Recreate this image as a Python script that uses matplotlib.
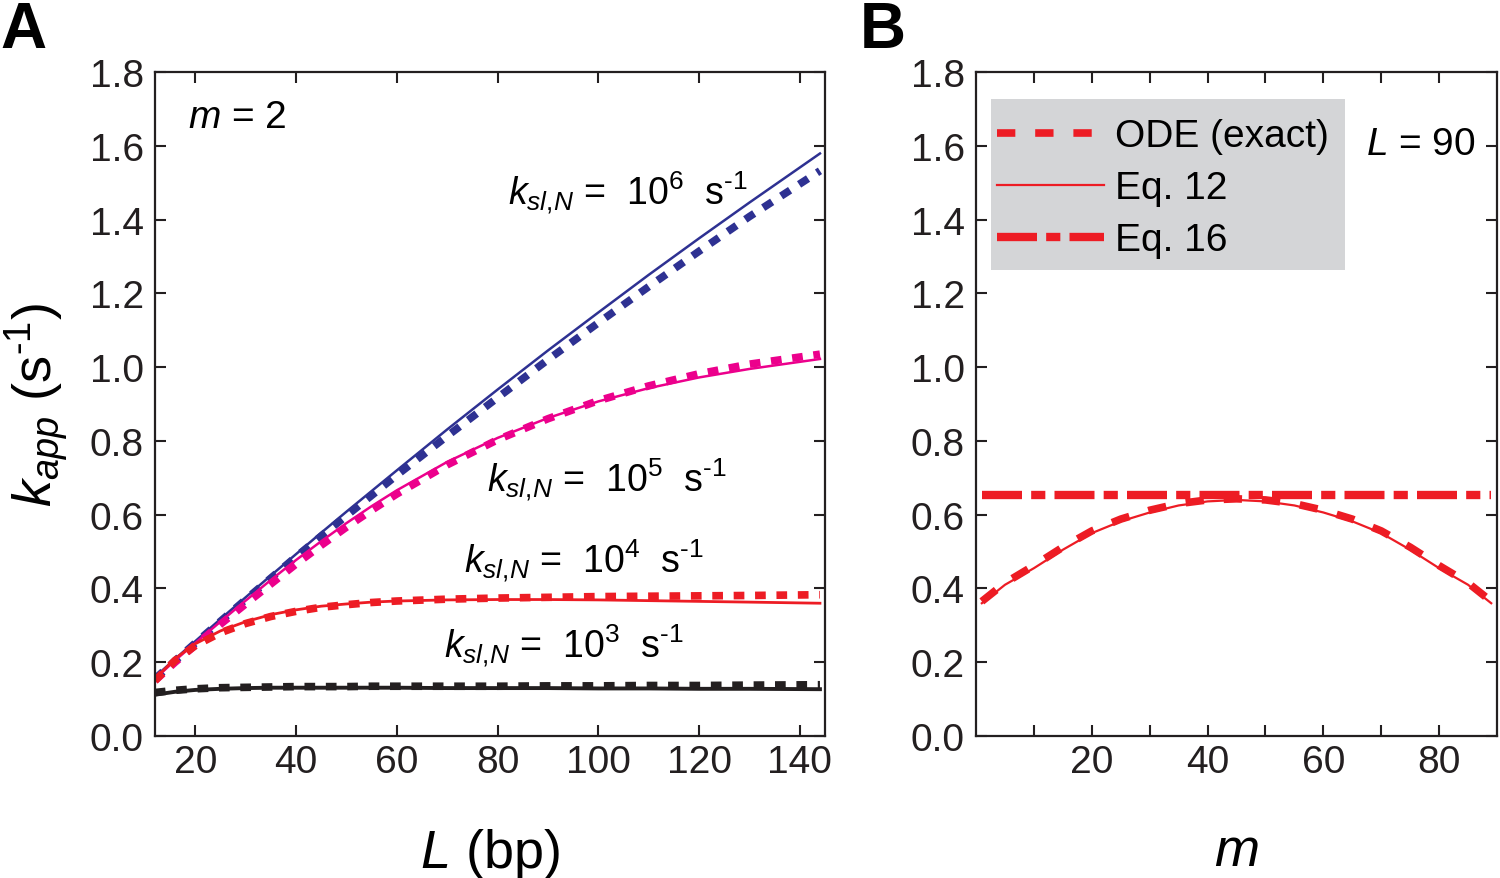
import matplotlib
matplotlib.use("Agg")
import matplotlib.pyplot as plt
from matplotlib.patches import Rectangle
from matplotlib.ticker import FormatStrFormatter, FixedLocator

plt.rcParams['font.family'] = ['Liberation Sans', 'DejaVu Sans']
plt.rcParams['mathtext.fontset'] = 'custom'
plt.rcParams['mathtext.rm'] = 'Liberation Sans'
plt.rcParams['mathtext.it'] = 'Liberation Sans:italic'
plt.rcParams['mathtext.bf'] = 'Liberation Sans:bold'

# ---- data, panel A (k_app vs L, m = 2)
L = [12, 16, 20, 25, 30, 35, 40, 45, 50, 55, 60, 70, 80, 90, 100, 110, 120, 130, 144]
k6_eq = [0.16, 0.209, 0.257, 0.317, 0.376, 0.435, 0.493, 0.551, 0.608, 0.664, 0.720,
         0.831, 0.939, 1.045, 1.148, 1.250, 1.349, 1.446, 1.579]
k6_ode = [0.155, 0.204, 0.252, 0.311, 0.370, 0.428, 0.486, 0.542, 0.597, 0.652, 0.707,
          0.813, 0.917, 1.020, 1.120, 1.218, 1.314, 1.408, 1.532]
k5_eq = [0.155, 0.205, 0.252, 0.310, 0.367, 0.423, 0.477, 0.528, 0.577, 0.623, 0.666,
         0.743, 0.808, 0.862, 0.907, 0.943, 0.972, 0.995, 1.022]
k5_ode = [0.150, 0.200, 0.246, 0.303, 0.358, 0.412, 0.466, 0.517, 0.566, 0.612, 0.656,
          0.735, 0.803, 0.860, 0.909, 0.949, 0.982, 1.008, 1.035]
k4_eq = [0.155, 0.210, 0.250, 0.285, 0.310, 0.329, 0.342, 0.352, 0.358, 0.363, 0.366,
         0.369, 0.370, 0.370, 0.369, 0.367, 0.365, 0.363, 0.360]
k4_ode = [0.150, 0.205, 0.245, 0.280, 0.305, 0.324, 0.338, 0.349, 0.356, 0.362, 0.366,
          0.371, 0.374, 0.376, 0.378, 0.379, 0.380, 0.381, 0.383]
k3_eq = [0.112, 0.120, 0.125, 0.128, 0.130, 0.131, 0.131, 0.131, 0.131, 0.131, 0.131,
         0.130, 0.130, 0.130, 0.129, 0.129, 0.128, 0.128, 0.127]
k3_ode = [0.118, 0.124, 0.128, 0.131, 0.132, 0.133, 0.134, 0.134, 0.134, 0.135, 0.135,
          0.135, 0.135, 0.136, 0.136, 0.137, 0.137, 0.138, 0.139]

# ---- data, panel B (k_app vs m, L = 90)
m = [1, 5, 10, 15, 20, 25, 30, 35, 40, 45, 50, 55, 60, 65, 70, 75, 80, 85, 89]
kb_eq12 = [0.36, 0.41, 0.455, 0.505, 0.55, 0.582, 0.606, 0.625, 0.636, 0.64,
           0.636, 0.625, 0.606, 0.582, 0.55, 0.505, 0.455, 0.41, 0.36]
kb_ode = [0.365, 0.415, 0.462, 0.512, 0.556, 0.588, 0.612, 0.63, 0.64, 0.643,
          0.64, 0.63, 0.612, 0.588, 0.556, 0.512, 0.462, 0.415, 0.365]
kb_eq16 = [0.653] * len(m)

blue = "#2E3192"
magenta = "#EC008C"
red = "#ED1C24"
black = "#231F20"
fs = 28

fig = plt.figure(figsize=(15, 8.79), dpi=100)
axA = fig.add_axes([0.1033, 0.1615, 0.4467, 0.7555])
axB = fig.add_axes([0.6507, 0.1615, 0.3473, 0.7555])

dash_a = (0, (1.4, 1.4))
for eq, ode, c, w in [(k6_eq, k6_ode, blue, 1.8), (k5_eq, k5_ode, magenta, 1.8),
                      (k4_eq, k4_ode, red, 2.0), (k3_eq, k3_ode, black, 2.8)]:
    axA.plot(L, ode, color=c, lw=5.5, linestyle=dash_a, dash_capstyle='butt')
    axA.plot(L, eq, color=c, lw=w)

axA.set_xlim(12, 145)
axA.set_ylim(0, 1.8)
axA.set_xticks([20, 40, 60, 80, 100, 120, 140])
axA.set_yticks([0, 0.2, 0.4, 0.6, 0.8, 1.0, 1.2, 1.4, 1.6, 1.8])
axA.set_xlabel(r"$L$ (bp)", fontsize=39, labelpad=33)
axA.set_ylabel(r"$k_{app}$ (s$^{\text{-}1}$)", fontsize=39, labelpad=13)

axA.text(0.049, 0.917, r"$m$ = 2", transform=axA.transAxes, fontsize=fs, va='baseline')
sup = r"$k_{sl{,}N}$ =  10$^{%d}$  s$^{\text{-}1}$"
labels = [(sup % 6, 0.527, 0.801),
          (sup % 5, 0.496, 0.369),
          (sup % 4, 0.461, 0.247),
          (sup % 3, 0.431, 0.119)]
for txt, x, y in labels:
    axA.text(x, y, txt, transform=axA.transAxes, fontsize=27, va='baseline')

# panel B
axB.plot(m, kb_ode, color=red, lw=5.5, linestyle=(0, (2.4, 2.6)), dash_capstyle='butt',
         label="ODE (exact)")
axB.plot(m, kb_eq12, color=red, lw=1.6, label="Eq. 12")
axB.plot(m, kb_eq16, color=red, lw=6, linestyle=(0, (4.8, 1.1, 1.7, 1.1)),
         dash_capstyle='butt', label="Eq. 16")
axB.set_xlim(0, 90)
axB.set_ylim(0, 1.8)
axB.set_xticks([20, 40, 60, 80])
axB.xaxis.set_minor_locator(FixedLocator([10, 30, 50, 70]))
axB.set_yticks([0, 0.2, 0.4, 0.6, 0.8, 1.0, 1.2, 1.4, 1.6, 1.8])
axB.set_xlabel(r"$m$", fontsize=39, labelpad=33)
axB.text(0.749, 0.877, r"$L$ = 90", transform=axB.transAxes, fontsize=fs, va='baseline')

# grey legend background
axB.add_patch(Rectangle((0.0288, 0.7018), 0.6795, 0.2575, transform=axB.transAxes,
                        facecolor="#D4D5D7", edgecolor="none", zorder=1.5))
leg = axB.legend(loc='upper left', bbox_to_anchor=(0.040, 0.930), borderaxespad=0,
                 fontsize=fs, handlelength=2.75, handletextpad=0.3, labelspacing=0.41,
                 borderpad=0, frameon=False)

for ax in (axA, axB):
    ax.yaxis.set_major_formatter(FormatStrFormatter('%.1f'))
    ax.tick_params(which='both', direction='in', top=True, right=True, length=8, width=1.5,
                   labelsize=fs, color=black, labelcolor=black)
    ax.tick_params(axis='y', pad=8)
    ax.tick_params(axis='x', pad=6)
    for s in ax.spines.values():
        s.set_linewidth(1.6)
        s.set_color(black)

fig.text(0.0, 1 - 48 / 879, "A", fontsize=46, fontweight='bold', va='baseline', ha='left')
fig.text(860 / 1500, 1 - 48 / 879, "B", fontsize=46, fontweight='bold', va='baseline', ha='left')

fig.savefig("out.png", dpi=100)
